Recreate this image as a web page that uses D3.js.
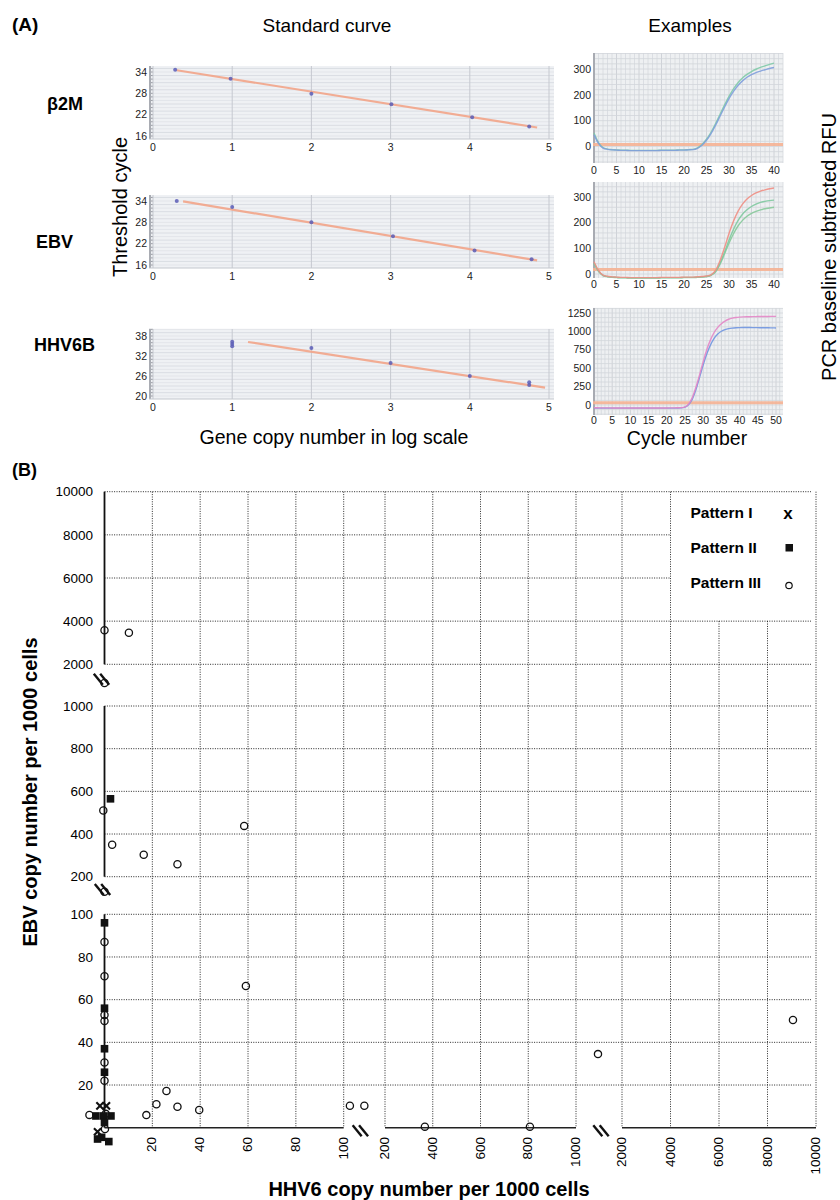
<!DOCTYPE html>
<html>
<head>
<meta charset="utf-8">
<script src="https://cdn.jsdelivr.net/npm/d3@7/dist/d3.min.js"></script>
<style>
html,body{margin:0;padding:0;background:#fff;}
svg{display:block;}
text{font-family:"Liberation Sans",Arial,Helvetica,sans-serif;}
</style>
</head>
<body>
<svg id="chart" width="840" height="1200"></svg>
<script>
// ================= DATA =================
// Panel A - standard curves
const stdXTicks = [0,1,2,3,4,5];
const b2mLog = [0.28, 0.98, 2.0, 3.01, 4.03, 4.75];
const b2mCt  = [34.6, 32.1, 27.9, 24.9, 21.3, 18.7];
const b2mFitLog = [0.3, 4.85];
const b2mFitCt  = [34.5, 18.4];
const b2mYTicks = [34, 28, 22, 16];

const ebvLog = [0.3, 1.0, 2.0, 3.03, 4.06, 4.78];
const ebvCt  = [34.0, 32.3, 28.0, 24.1, 20.1, 17.6];
const ebvFitLog = [0.38, 4.85];
const ebvFitCt  = [33.9, 17.3];
const ebvYTicks = [34, 28, 22, 16];

const hhvLog = [1.0, 1.0, 1.0, 2.0, 3.0, 4.0, 4.75, 4.75];
const hhvCt  = [34.9, 35.6, 36.3, 34.4, 29.9, 26.0, 23.3, 24.1];
const hhvFitLog = [1.2, 4.95];
const hhvFitCt  = [36.2, 22.5];
const hhvYTicks = [38, 32, 26, 20];

// Panel A - amplification examples
const cycles40 = [0,1,2,3,4,5,6,7,8,9,10,11,12,13,14,15,16,17,18,19,20,21,22,23,24,25,26,27,28,29,30,31,32,33,34,35,36,37,38,39,40];
const cycles50 = [0,1,2,3,4,5,6,7,8,9,10,11,12,13,14,15,16,17,18,19,20,21,22,23,24,25,26,27,28,29,30,31,32,33,34,35,36,37,38,39,40,41,42,43,44,45,46,47,48,49,50];
const ex1XTicks = [0,5,10,15,20,25,30,35,40];
const ex1YTicks = [0,100,200,300];
const ex1Blue  = [45,12,-6,-11,-13,-14,-15,-15,-16,-16,-16,-16,-16,-16,-16,-15,-15,-15,-15,-14,-14,-13,-12,-7,5,24,50,82,117,152,185,213,236,254,268,278,286,292,297,302,306];
const ex1Green = [52,15,-4,-10,-12,-13,-14,-14,-15,-15,-15,-15,-15,-15,-15,-14,-14,-14,-14,-13,-13,-12,-11,-5,8,28,55,88,124,160,194,223,247,265,279,290,299,306,312,318,323];
const ex1Threshold = 8;

const ex2XTicks = [0,5,10,15,20,25,30,35,40];
const ex2YTicks = [0,100,200,300];
const ex2Red    = [48,14,-4,-9,-11,-12,-13,-13,-14,-14,-14,-14,-14,-14,-14,-13,-13,-13,-13,-13,-12,-12,-12,-11,-10,-8,-3,14,52,102,158,206,244,272,292,306,316,323,328,332,335];
const ex2Green1 = [44,12,-5,-10,-12,-13,-14,-14,-15,-15,-15,-15,-15,-15,-15,-14,-14,-14,-14,-14,-13,-13,-13,-12,-11,-9,-4,10,42,85,132,174,208,233,250,263,272,279,283,286,288];
const ex2Green2 = [40,10,-6,-11,-13,-14,-15,-15,-16,-16,-16,-16,-16,-16,-16,-15,-15,-15,-15,-15,-14,-14,-14,-13,-12,-10,-5,8,38,78,120,157,187,209,225,236,244,250,254,257,260];
const ex2Threshold = 18;

const ex3XTicks = [0,5,10,15,20,25,30,35,40,45,50];
const ex3YTicks = [0,250,500,750,1000,1250];
const ex3Pink = [-38,-38,-39,-39,-39,-40,-40,-40,-40,-40,-40,-40,-40,-40,-40,-40,-40,-40,-40,-40,-40,-39,-39,-38,-36,-25,15,100,240,410,590,755,885,985,1055,1105,1140,1165,1180,1189,1194,1197,1199,1200,1201,1202,1202,1203,1203,1204,1204];
const ex3Blue = [-42,-42,-42,-43,-43,-43,-43,-43,-43,-43,-43,-43,-43,-43,-43,-43,-43,-43,-43,-43,-43,-42,-42,-41,-39,-30,5,80,210,375,545,695,815,905,965,1002,1025,1038,1045,1049,1051,1052,1052,1052,1051,1051,1050,1050,1049,1048,1047];
const ex3Threshold = 30;

// Panel B - scatter
const bTicks = [20,40,60,80,100,200,400,600,800,1000,2000,4000,6000,8000,10000];
const p1Hhv = [-1.9, 0.8, -2.9];
const p1Ebv = [10.2, 10.2, -1.9];
const p2Hhv = [2.5, 0, 0, 0, 0, -3.6, -0.4, 2.7, 0, -2.9, -1.2, 1.8];
const p2Ebv = [565, 96, 56, 37, 26, 5.5, 5.5, 5.5, 2.5, -5.3, -4.5, -6.5];
const p3Hhv = [0, 10.2, 0, -0.5, 3.2, 16.4, 30.5, 58.4, 0, 0, 0, 59.1, 0, 0, 0, 0, -6.3, 17.5, 21.7, 25.9, 30.5, 39.6, 115, 150, 367, 807, 1478, 9050, 0.2, 0.5];
const p3Ebv = [3580, 3460, 1550, 510, 350, 303, 258, 438, 160, 87, 71, 66.4, 52.8, 50, 30.6, 22, 6, 5.9, 11, 17.2, 9.8, 8.3, 10.3, 10.3, 0.5, 0.5, 34.5, 50.5, -0.6, 6.5];
const legendLabels = ["Pattern I", "Pattern II", "Pattern III"];

// ================= DRAW =================
const svg = d3.select("#chart");

function txt(g, x, y, s, o) {
  o = o || {};
  const t = g.append("text").attr("x", x).attr("y", y).text(s)
    .attr("font-size", o.size || 12)
    .attr("font-weight", o.bold ? "bold" : "normal")
    .attr("fill", o.fill || "#000")
    .attr("text-anchor", o.anchor || "start");
  if (o.dy) t.attr("dy", o.dy);
  if (o.rotate) t.attr("transform", `rotate(${o.rotate},${x},${y})`);
  return t;
}

// ----- Panel A headings -----
txt(svg, 12, 31, "(A)", {size: 19, bold: true});
txt(svg, 327, 32, "Standard curve", {size: 19, anchor: "middle"});
txt(svg, 690, 32, "Examples", {size: 19, anchor: "middle"});
txt(svg, 47, 110, "β2M", {size: 18, bold: true});
txt(svg, 36, 248, "EBV", {size: 18, bold: true});
txt(svg, 34, 351, "HHV6B", {size: 18, bold: true});
txt(svg, 127, 207, "Threshold cycle", {size: 20, anchor: "middle", rotate: -90});
txt(svg, 836, 247, "PCR baseline subtracted RFU", {size: 20, anchor: "middle", rotate: -90});
txt(svg, 334, 444, "Gene copy number in log scale", {size: 19.5, anchor: "middle"});
txt(svg, 687, 445, "Cycle number", {size: 19.5, anchor: "middle"});

function stdPanel(cfg) {
  const L = 149, R = 554, T = cfg.top, B = cfg.bottom;
  const x = d3.scaleLinear().domain([0, 5]).range([153, 549]);
  const y = d3.scaleLinear().domain([cfg.yTicks[0], cfg.yTicks[cfg.yTicks.length - 1]]).range(cfg.yRng);
  const g = svg.append("g");
  g.append("rect").attr("x", L).attr("y", T).attr("width", R - L).attr("height", B - T).attr("fill", "#eff1f4");
  const lo = Math.ceil(y.invert(B)), hi = Math.floor(y.invert(T));
  for (let v = lo; v <= hi; v++) {
    g.append("line").attr("x1", L).attr("x2", R).attr("y1", y(v)).attr("y2", y(v))
      .attr("stroke", v % 2 ? "#dadde3" : "#e3e5ea").attr("stroke-width", 1);
    g.append("line").attr("x1", L).attr("x2", L + 4).attr("y1", y(v)).attr("y2", y(v))
      .attr("stroke", "#8a8d94").attr("stroke-width", 0.8);
  }
  stdXTicks.forEach(v => {
    g.append("line").attr("x1", x(v)).attr("x2", x(v)).attr("y1", T).attr("y2", B)
      .attr("stroke", "#c6c9d0").attr("stroke-width", 1);
  });
  g.append("line").attr("x1", L + 1).attr("x2", L + 1).attr("y1", T).attr("y2", B).attr("stroke", "#a9acb3").attr("stroke-width", 2);
  g.append("line").attr("x1", L).attr("x2", R).attr("y1", B).attr("y2", B).attr("stroke", "#c4c7cd").attr("stroke-width", 1.2);
  cfg.yTicks.forEach(v => txt(g, 147, y(v), v, {size: 10.5, anchor: "end", dy: "0.35em", fill: "#222"}));
  stdXTicks.forEach(v => txt(g, x(v), B + 12, v, {size: 10.5, anchor: "middle", fill: "#222"}));
  g.append("path")
    .attr("d", d3.line()(cfg.fitX.map((v, i) => [x(v), y(cfg.fitY[i])])))
    .attr("stroke", "#f2a488").attr("stroke-width", 2.2).attr("fill", "none").attr("opacity", 0.9);
  cfg.xs.forEach((v, i) => {
    g.append("circle").attr("cx", x(v)).attr("cy", y(cfg.ys[i])).attr("r", 2)
      .attr("fill", "#5b5db6").attr("opacity", 0.85);
  });
}

stdPanel({top: 66, bottom: 139, yRng: [72, 136], yTicks: b2mYTicks, xs: b2mLog, ys: b2mCt, fitX: b2mFitLog, fitY: b2mFitCt});
stdPanel({top: 195, bottom: 268, yRng: [201, 265], yTicks: ebvYTicks, xs: ebvLog, ys: ebvCt, fitX: ebvFitLog, fitY: ebvFitCt});
stdPanel({top: 329, bottom: 399, yRng: [336, 396], yTicks: hhvYTicks, xs: hhvLog, ys: hhvCt, fitX: hhvFitLog, fitY: hhvFitCt});

function exPanel(cfg) {
  const L = 593, R = 783, T = cfg.top, B = cfg.bottom;
  const x = d3.scaleLinear().domain([0, cfg.xMax]).range([594, cfg.xMaxPx]);
  const y = d3.scaleLinear().domain([0, cfg.yRef]).range(cfg.yRng);
  const g = svg.append("g");
  g.append("rect").attr("x", L).attr("y", T).attr("width", R - L).attr("height", B - T).attr("fill", "#eef0f2");
  const xl = Math.ceil(x.invert(L)), xh = Math.floor(x.invert(R));
  for (let c = xl; c <= xh; c++) {
    g.append("line").attr("x1", x(c)).attr("x2", x(c)).attr("y1", T).attr("y2", B)
      .attr("stroke", c % 5 === 0 ? "#c6cad1" : "#d6d9de").attr("stroke-width", 0.8);
  }
  const yl = Math.ceil(y.invert(B) / cfg.yStep), yh = Math.floor(y.invert(T) / cfg.yStep);
  for (let k = yl; k <= yh; k++) {
    const v = k * cfg.yStep;
    g.append("line").attr("x1", L).attr("x2", R).attr("y1", y(v)).attr("y2", y(v))
      .attr("stroke", "#d2d6db").attr("stroke-width", 0.8);
  }
  g.append("line").attr("x1", L + 1).attr("x2", L + 1).attr("y1", T).attr("y2", B).attr("stroke", "#a8abb2").attr("stroke-width", 2);
  cfg.yTicks.forEach(v => txt(g, 591, y(v), v, {size: 10.5, anchor: "end", dy: "0.35em", fill: "#222"}));
  cfg.xTicks.forEach(v => txt(g, x(v), B + cfg.labelGap, v, {size: 10.5, anchor: "middle", fill: "#222"}));
  // threshold
  g.append("line").attr("x1", L).attr("x2", R).attr("y1", y(cfg.threshold)).attr("y2", y(cfg.threshold))
    .attr("stroke", "#f6b394").attr("stroke-width", 3).attr("opacity", 0.9);
  cfg.series.forEach(s => {
    g.append("path")
      .attr("d", d3.line().curve(d3.curveMonotoneX)(cfg.cycles.map((c, i) => [x(c), y(s.v[i])])))
      .attr("stroke", s.color).attr("stroke-width", 1.4).attr("fill", "none").attr("opacity", 0.9);
  });
}

exPanel({top: 53, bottom: 163, xMax: 40, xMaxPx: 774, yRef: 300, yRng: [146.5, 69], yStep: 20, labelGap: 11,
  yTicks: ex1YTicks, xTicks: ex1XTicks, threshold: ex1Threshold, cycles: cycles40,
  series: [{v: ex1Green, color: "#7fcaa8"}, {v: ex1Blue, color: "#7f9fdc"}]});
exPanel({top: 182, bottom: 278, xMax: 40, xMaxPx: 774, yRef: 300, yRng: [274, 197], yStep: 20, labelGap: 10,
  yTicks: ex2YTicks, xTicks: ex2XTicks, threshold: ex2Threshold, cycles: cycles40,
  series: [{v: ex2Green2, color: "#86c99a"}, {v: ex2Green1, color: "#7fc9a0"}, {v: ex2Red, color: "#ef8e84"}]});
exPanel({top: 308, bottom: 415, xMax: 50, xMaxPx: 776, yRef: 1250, yRng: [405, 313], yStep: 62.5, labelGap: 8.5,
  yTicks: ex3YTicks, xTicks: ex3XTicks, threshold: ex3Threshold, cycles: cycles50,
  series: [{v: ex3Blue, color: "#6f95e0"}, {v: ex3Pink, color: "#e486c6"}]});

// ----- Panel B -----
const gb = svg.append("g");
txt(gb, 12, 476, "(B)", {size: 18, bold: true});
const bx = d3.scaleLinear().domain([0, 100, 200, 1000, 2000, 10000]).range([104.5, 343.7, 385, 576, 622, 816]);
const by = d3.scaleLinear().domain([0, 100, 200, 1000, 2000, 10000]).range([1127.7, 914.3, 876.7, 706, 664.3, 491.7]);
const gridRight = 811;
const dots = {stroke: "#111", width: 0.9, dash: "1,1.4"};

bTicks.forEach(v => {
  const xEnd = (v === 6000 || v === 8000) ? bx(4000) : gridRight;
  gb.append("line").attr("x1", bx(0)).attr("x2", xEnd).attr("y1", by(v)).attr("y2", by(v))
    .attr("stroke", dots.stroke).attr("stroke-width", dots.width).attr("stroke-dasharray", dots.dash);
  const yStart = (v === 6000 || v === 8000) ? by(4000) : by(10000);
  gb.append("line").attr("x1", bx(v)).attr("x2", bx(v)).attr("y1", yStart).attr("y2", by(0))
    .attr("stroke", dots.stroke).attr("stroke-width", dots.width).attr("stroke-dasharray", dots.dash);
});

// axes segments
[[10000, 2000], [1000, 200], [100, 0]].forEach(s => {
  gb.append("line").attr("x1", bx(0)).attr("x2", bx(0)).attr("y1", by(s[0])).attr("y2", by(s[1]))
    .attr("stroke", "#111").attr("stroke-width", 1.8);
});
[[0, 100], [200, 1000], [2000, 10000]].forEach(s => {
  gb.append("line").attr("x1", bx(s[0])).attr("x2", bx(s[1])).attr("y1", by(0)).attr("y2", by(0))
    .attr("stroke", "#222").attr("stroke-width", 1.5);
});

// break marks
function breakMark(cx, cy) {
  [-3.2, 3.2].forEach(o => {
    gb.append("line").attr("x1", cx + o - 4.5).attr("y1", cy - 5.5).attr("x2", cx + o + 4.5).attr("y2", cy + 5.5)
      .attr("stroke", "#111").attr("stroke-width", 2.4);
  });
}
breakMark(bx(0) - 3, (by(2000) + by(1000)) / 2 - 6);
breakMark(bx(0) - 2, (by(200) + by(100)) / 2 - 6);
breakMark((bx(100) + bx(200)) / 2 - 4, by(0) + 3);
breakMark((bx(1000) + bx(2000)) / 2 + 2, by(0) + 3);

// tick labels
bTicks.forEach(v => {
  txt(gb, 93, by(v), v, {size: 13.5, anchor: "end", dy: "0.35em"});
  gb.append("text").text(v).attr("font-size", 13.5).attr("text-anchor", "end")
    .attr("transform", `translate(${bx(v) + 4},1137) rotate(-90)`);
});

txt(gb, 37, 792, "EBV copy number per 1000 cells", {size: 20, bold: true, anchor: "middle", rotate: -90});
txt(gb, 429, 1196, "HHV6 copy number per 1000 cells", {size: 20, bold: true, anchor: "middle"});

// points
const crossPath = "M-3.6,-3.6L3.6,3.6M3.6,-3.6L-3.6,3.6";
p3Hhv.forEach((v, i) => {
  gb.append("circle").attr("cx", bx(v)).attr("cy", by(p3Ebv[i])).attr("r", 3.6)
    .attr("fill", "none").attr("stroke", "#111").attr("stroke-width", 1.3);
});
p2Hhv.forEach((v, i) => {
  gb.append("rect").attr("x", bx(v) - 3.8).attr("y", by(p2Ebv[i]) - 3.8).attr("width", 7.6).attr("height", 7.6)
    .attr("fill", "#111");
});
p1Hhv.forEach((v, i) => {
  gb.append("path").attr("d", crossPath).attr("transform", `translate(${bx(v)},${by(p1Ebv[i])})`)
    .attr("stroke", "#111").attr("stroke-width", 2.1).attr("fill", "none");
});

// legend
const legX = bx(4000) + 20;
const legBase = [518, 553, 588];
legendLabels.forEach((s, i) => txt(gb, legX, legBase[i], s, {size: 15.5, bold: true}));
txt(gb, 788, 519, "x", {size: 17, bold: true, anchor: "middle"});
gb.append("rect").attr("x", 785.5).attr("y", 544).attr("width", 7.5).attr("height", 7.5).attr("fill", "#111");
gb.append("circle").attr("cx", 789).attr("cy", 585.5).attr("r", 3.2).attr("fill", "none").attr("stroke", "#111").attr("stroke-width", 1.2);
</script>
</body>
</html>
